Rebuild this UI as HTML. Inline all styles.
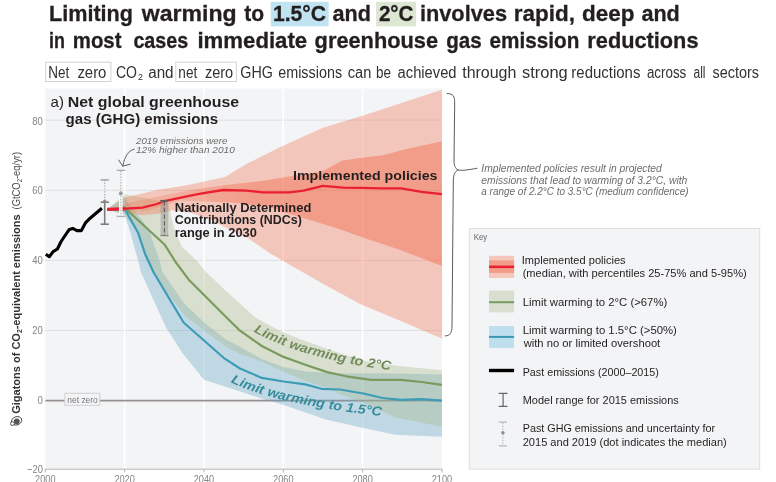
<!DOCTYPE html>
<html><head><meta charset="utf-8"><title>Limiting warming</title>
<style>
html,body{margin:0;padding:0;background:#fff;}
body{width:776px;height:482px;overflow:hidden;}
svg{display:block;will-change:transform;}
text{font-family:"Liberation Sans",sans-serif;}
.b{font-weight:bold;}
.i{font-style:italic;}
.k{font-size:11px;fill:#231f20;}
.ax{font-size:11.3px;fill:#858585;}
.hw{font-style:italic;fill:#6c6c6c;}
</style></head><body>
<svg width="776" height="482" viewBox="0 0 776 482">
<rect width="776" height="482" fill="#fff"/>

<rect x="270.7" y="1.8" width="58" height="24.5" fill="#bfe3f0"/>
<rect x="376.1" y="1.8" width="40" height="24.5" fill="#dde5d3"/>
<text x="48.94" y="21.4" font-size="22.5" font-weight="bold" stroke="#231f20" stroke-width="0.3" fill="#231f20" textLength="84.08" lengthAdjust="spacingAndGlyphs">Limiting</text>
<text x="141.83" y="21.4" font-size="22.5" font-weight="bold" stroke="#231f20" stroke-width="0.3" fill="#231f20" textLength="94.84" lengthAdjust="spacingAndGlyphs">warming</text>
<text x="244.30" y="21.4" font-size="22.5" font-weight="bold" stroke="#231f20" stroke-width="0.3" fill="#231f20" textLength="19.90" lengthAdjust="spacingAndGlyphs">to</text>
<text x="272.96" y="21.4" font-size="22.5" font-weight="bold" stroke="#231f20" stroke-width="0.3" fill="#231f20" textLength="53.07" lengthAdjust="spacingAndGlyphs">1.5°C</text>
<text x="332.50" y="21.4" font-size="22.5" font-weight="bold" stroke="#231f20" stroke-width="0.3" fill="#231f20" textLength="38.41" lengthAdjust="spacingAndGlyphs">and</text>
<text x="378.90" y="21.4" font-size="22.5" font-weight="bold" stroke="#231f20" stroke-width="0.3" fill="#231f20" textLength="34.63" lengthAdjust="spacingAndGlyphs">2°C</text>
<text x="419.93" y="21.4" font-size="22.5" font-weight="bold" stroke="#231f20" stroke-width="0.3" fill="#231f20" textLength="87.06" lengthAdjust="spacingAndGlyphs">involves</text>
<text x="513.80" y="21.4" font-size="22.5" font-weight="bold" stroke="#231f20" stroke-width="0.3" fill="#231f20" textLength="61.15" lengthAdjust="spacingAndGlyphs">rapid,</text>
<text x="582.10" y="21.4" font-size="22.5" font-weight="bold" stroke="#231f20" stroke-width="0.3" fill="#231f20" textLength="52.44" lengthAdjust="spacingAndGlyphs">deep</text>
<text x="641.40" y="21.4" font-size="22.5" font-weight="bold" stroke="#231f20" stroke-width="0.3" fill="#231f20" textLength="38.41" lengthAdjust="spacingAndGlyphs">and</text>
<text x="49.11" y="48.2" font-size="22.5" font-weight="bold" stroke="#231f20" stroke-width="0.3" fill="#231f20" textLength="15.89" lengthAdjust="spacingAndGlyphs">in</text>
<text x="72.80" y="48.2" font-size="22.5" font-weight="bold" stroke="#231f20" stroke-width="0.3" fill="#231f20" textLength="48.65" lengthAdjust="spacingAndGlyphs">most</text>
<text x="133.40" y="48.2" font-size="22.5" font-weight="bold" stroke="#231f20" stroke-width="0.3" fill="#231f20" textLength="54.85" lengthAdjust="spacingAndGlyphs">cases</text>
<text x="197.41" y="48.2" font-size="22.5" font-weight="bold" stroke="#231f20" stroke-width="0.3" fill="#231f20" textLength="109.79" lengthAdjust="spacingAndGlyphs">immediate</text>
<text x="314.60" y="48.2" font-size="22.5" font-weight="bold" stroke="#231f20" stroke-width="0.3" fill="#231f20" textLength="123.50" lengthAdjust="spacingAndGlyphs">greenhouse</text>
<text x="446.20" y="48.2" font-size="22.5" font-weight="bold" stroke="#231f20" stroke-width="0.3" fill="#231f20" textLength="35.47" lengthAdjust="spacingAndGlyphs">gas</text>
<text x="489.60" y="48.2" font-size="22.5" font-weight="bold" stroke="#231f20" stroke-width="0.3" fill="#231f20" textLength="89.78" lengthAdjust="spacingAndGlyphs">emission</text>
<text x="587.33" y="48.2" font-size="22.5" font-weight="bold" stroke="#231f20" stroke-width="0.3" fill="#231f20" textLength="111.16" lengthAdjust="spacingAndGlyphs">reductions</text>
<rect x="45.7" y="62.2" width="65.2" height="19.3" fill="#fff" stroke="#d2d2d2" stroke-width="1"/>
<rect x="175.8" y="62.2" width="60.6" height="19.3" fill="#fff" stroke="#d2d2d2" stroke-width="1"/>
<text x="48.16" y="77.8" font-size="16" fill="#343132" textLength="20.98" lengthAdjust="spacingAndGlyphs">Net</text>
<text x="77.40" y="77.8" font-size="16" fill="#343132" textLength="29.01" lengthAdjust="spacingAndGlyphs">zero</text>
<text x="116.00" y="77.8" font-size="16" fill="#343132" textLength="20.99" lengthAdjust="spacingAndGlyphs">CO</text>
<text x="148.20" y="77.8" font-size="16" fill="#343132" textLength="25.35" lengthAdjust="spacingAndGlyphs">and</text>
<text x="178.35" y="77.8" font-size="16" fill="#343132" textLength="18.88" lengthAdjust="spacingAndGlyphs">net</text>
<text x="204.90" y="77.8" font-size="16" fill="#343132" textLength="28.31" lengthAdjust="spacingAndGlyphs">zero</text>
<text x="240.30" y="77.8" font-size="16" fill="#343132" textLength="32.60" lengthAdjust="spacingAndGlyphs">GHG</text>
<text x="278.20" y="77.8" font-size="16" fill="#343132" textLength="63.90" lengthAdjust="spacingAndGlyphs">emissions</text>
<text x="347.80" y="77.8" font-size="16" fill="#343132" textLength="23.52" lengthAdjust="spacingAndGlyphs">can</text>
<text x="376.06" y="77.8" font-size="16" fill="#343132" textLength="14.95" lengthAdjust="spacingAndGlyphs">be</text>
<text x="397.60" y="77.8" font-size="16" fill="#343132" textLength="58.93" lengthAdjust="spacingAndGlyphs">achieved</text>
<text x="462.20" y="77.8" font-size="16" fill="#343132" textLength="54.20" lengthAdjust="spacingAndGlyphs">through</text>
<text x="522.00" y="77.8" font-size="16" fill="#343132" textLength="45.72" lengthAdjust="spacingAndGlyphs">strong</text>
<text x="571.36" y="77.8" font-size="16" fill="#343132" textLength="69.04" lengthAdjust="spacingAndGlyphs">reductions</text>
<text x="646.90" y="77.8" font-size="16" fill="#343132" textLength="39.40" lengthAdjust="spacingAndGlyphs">across</text>
<text x="693.50" y="77.8" font-size="16" fill="#343132" textLength="12.02" lengthAdjust="spacingAndGlyphs">all</text>
<text x="712.60" y="77.8" font-size="16" fill="#343132" textLength="46.40" lengthAdjust="spacingAndGlyphs">sectors</text>
<text x="137.90" y="80" font-size="9.5" fill="#343132" textLength="4.97" lengthAdjust="spacingAndGlyphs">2</text>
<rect x="45.3" y="88.5" width="396.6" height="380.7" fill="#f3f4f6"/>
<line x1="45.3" x2="441.9" y1="120.2" y2="120.2" stroke="#dfdfdf" stroke-width="1"/>
<line x1="45.3" x2="441.9" y1="190.3" y2="190.3" stroke="#dfdfdf" stroke-width="1"/>
<line x1="45.3" x2="441.9" y1="260.4" y2="260.4" stroke="#dfdfdf" stroke-width="1"/>
<line x1="45.3" x2="441.9" y1="330.5" y2="330.5" stroke="#dfdfdf" stroke-width="1"/>
<line x1="124.6" x2="124.6" y1="88.5" y2="469.2" stroke="#fff" stroke-width="1.6"/>
<line x1="203.9" x2="203.9" y1="88.5" y2="469.2" stroke="#fff" stroke-width="1.6"/>
<line x1="283.3" x2="283.3" y1="88.5" y2="469.2" stroke="#fff" stroke-width="1.6"/>
<line x1="362.6" x2="362.6" y1="88.5" y2="469.2" stroke="#fff" stroke-width="1.6"/>
<line x1="44.8" x2="442.4" y1="469.2" y2="469.2" stroke="#b4b4b4" stroke-width="1"/>
<line x1="45.3" x2="45.3" y1="469.2" y2="472.4" stroke="#b4b4b4" stroke-width="1"/>
<line x1="124.6" x2="124.6" y1="469.2" y2="472.4" stroke="#b4b4b4" stroke-width="1"/>
<line x1="203.9" x2="203.9" y1="469.2" y2="472.4" stroke="#b4b4b4" stroke-width="1"/>
<line x1="283.3" x2="283.3" y1="469.2" y2="472.4" stroke="#b4b4b4" stroke-width="1"/>
<line x1="362.6" x2="362.6" y1="469.2" y2="472.4" stroke="#b4b4b4" stroke-width="1"/>
<line x1="441.9" x2="441.9" y1="469.2" y2="472.4" stroke="#b4b4b4" stroke-width="1"/>
<line x1="45.3" x2="441.9" y1="400.6" y2="400.6" stroke="#979091" stroke-width="1.6"/>
<polygon points="107.2,209.5 124.6,197.0 131.0,207.0 143.6,221.7 149.9,232.8 159.6,260.6 162.4,272.0 184.8,304.2 205.3,323.6 225.8,339.6 240.0,346.7 261.8,359.0 283.5,367.0 305.3,371.4 340.0,373.5 363.3,373.3 395.0,373.5 441.9,374.6 441.9,436.7 395.0,434.7 363.3,428.0 325.8,419.5 283.9,405.0 260.0,398.0 226.4,387.0 203.9,379.8 196.2,370.0 182.5,353.3 166.5,328.2 152.8,298.5 140.9,272.0 138.1,260.6 130.4,232.8 124.6,214.5 107.2,209.5" fill="#5ea4c3" fill-opacity="0.35"/>
<polygon points="107.2,209.5 124.8,194.3 145.0,198.0 168.0,203.0 174.0,228.0 176.0,234.2 182.0,246.7 196.5,260.6 206.0,272.0 226.8,291.7 256.0,317.9 280.0,331.0 300.0,339.0 325.0,348.0 345.0,355.0 367.7,361.5 395.0,365.5 441.9,370.3 441.9,426.8 395.0,417.3 363.3,403.0 340.0,393.9 327.1,388.0 305.3,380.8 283.5,371.4 261.8,361.9 240.0,353.9 225.8,346.4 205.3,331.6 184.8,315.6 160.0,283.0 153.4,272.0 145.0,253.7 138.1,232.8 124.6,215.0 107.2,209.5" fill="#a8b788" fill-opacity="0.35"/>
<polygon points="124.8,197.4 157.0,189.9 188.0,185.0 225.0,177.0 247.8,163.3 280.0,147.3 322.2,127.9 363.3,115.4 441.9,89.8 441.9,338.6 399.7,320.6 361.1,304.5 322.4,283.6 310.0,276.3 289.6,264.7 269.7,253.1 248.1,238.2 231.5,230.7 211.6,220.0 190.0,212.4 172.6,210.3 160.0,213.5 142.4,215.2 124.8,212.2" fill="#f3714d" fill-opacity="0.35"/>
<defs><linearGradient id="gi" gradientUnits="userSpaceOnUse" x1="125" y1="0" x2="250" y2="0"><stop offset="0" stop-color="#f0512c" stop-opacity="0.16"/><stop offset="0.45" stop-color="#f0512c" stop-opacity="0.2"/><stop offset="1" stop-color="#f0512c" stop-opacity="0.35"/></linearGradient></defs>
<polygon points="124.8,203.5 157.0,196.7 188.0,190.4 225.0,185.0 260.0,181.2 292.2,176.1 321.9,171.6 342.5,160.6 360.0,158.0 382.7,155.3 405.5,149.2 441.9,141.2 441.9,265.9 399.7,249.8 361.1,236.9 340.0,229.3 310.0,220.0 283.1,212.0 269.7,207.0 231.5,202.5 180.0,200.5 164.0,205.5 147.2,211.0 124.8,210.3" fill="url(#gi)"/>
<polygon points="107.2,209.5 124.8,197.4 124.8,212.2" fill="#c9856a" fill-opacity="0.22"/>
<polyline points="107.2,209.5 124.6,209.5 125.6,210.6 138.1,232.8 145.0,253.7 153.4,272.0 183.6,322.5 223.6,357.8 240.0,368.5 261.8,377.9 283.5,381.5 305.3,384.4 321.3,388.8 340.0,389.5 363.3,393.5 382.7,398.0 401.0,399.9 421.5,399.2 441.9,400.7" fill="none" stroke="#3d9cb6" stroke-width="2.2" stroke-linejoin="round"/>
<polyline points="107.2,209.5 120.5,209.0 123.6,206.9 126.2,209.3 164.8,244.8 175.6,262.0 189.3,280.3 225.8,316.8 240.0,330.7 261.8,346.0 283.5,356.9 305.3,364.8 327.1,372.1 346.2,376.3 371.3,379.8 401.0,379.8 421.5,382.0 441.9,384.9" fill="none" stroke="#7a9b5f" stroke-width="2.2" stroke-linejoin="round"/>
<polyline points="107.2,209.5 118.0,208.9 125.3,208.7 142.4,207.6 157.0,204.0 164.4,201.2 188.0,196.2 200.6,193.7 223.3,190.0 246.0,190.6 262.5,192.3 289.3,192.3 303.7,190.7 322.8,185.8 343.0,187.7 360.0,187.9 382.7,188.4 401.0,188.4 421.5,191.8 441.9,194.2" fill="none" stroke="#ea1f30" stroke-width="2.3" stroke-linejoin="round"/>
<line x1="107.2" y1="209.3" x2="124.6" y2="208.9" stroke="#ea1f30" stroke-width="3.1"/>
<polyline points="45.8,254.2 49.4,256.7 53.1,251.6 57.4,249.0 61.1,241.5 65.1,235.5 69.0,229.8 72.7,228.4 77.0,230.6 81.4,230.6 85.7,222.6 90.1,218.2 101.9,208.3" fill="none" stroke="#000" stroke-width="3.1" stroke-linejoin="round"/>
<rect x="64.8" y="393.3" width="35" height="12" fill="#f3f4f6" stroke="#cfcfcf" stroke-width="1"/>
<text x="67.3" y="402.6" font-size="9.5" fill="#777" textLength="30.5" lengthAdjust="spacingAndGlyphs">net zero</text>
<g stroke="#a8a8a8" stroke-width="1.2" fill="none">
<line x1="100.6" x2="108.9" y1="179.9" y2="179.9" stroke-width="1.6"/>
<line x1="104.7" x2="104.7" y1="180" y2="201" stroke-dasharray="1.2 1.6"/>
</g>
<g stroke="#7c7c7c" stroke-width="1.6" fill="none">
<line x1="104.7" x2="104.7" y1="201.5" y2="224.2"/>
<line x1="100.6" x2="108.9" y1="202.2" y2="202.2"/>
<line x1="100.6" x2="108.9" y1="224.2" y2="224.2"/>
</g>
<circle cx="104.7" cy="201.3" r="1.7" fill="#8c8c8c"/>
<rect x="119" y="196.5" width="3.6" height="19.8" fill="#fff" fill-opacity="0.9"/>
<g stroke="#b0b0b0" stroke-width="1.2" fill="none">
<line x1="116.7" x2="125" y1="170.3" y2="170.3" stroke-width="1.4"/>
<line x1="116.7" x2="125" y1="216.4" y2="216.4" stroke-width="1.4"/>
<line x1="120.8" x2="120.8" y1="171" y2="216" stroke-dasharray="1.2 1.6"/>
</g>
<circle cx="120.8" cy="193.5" r="1.9" fill="#9a9a9a"/>
<rect x="160.6" y="200.7" width="7.6" height="35" fill="#8a8a8a" fill-opacity="0.4"/>
<g stroke="#5a5a5a" stroke-width="1.3" fill="none">
<line x1="160.3" x2="168.5" y1="200.7" y2="200.7" stroke-width="1.6"/>
<line x1="160.3" x2="168.5" y1="235.6" y2="235.6" stroke="#8a8a8a"/>
<line x1="164.4" x2="164.4" y1="201" y2="235.6" stroke-dasharray="4.5 2.2" stroke-width="1"/>
</g>
<text x="50.6" y="107.4" font-size="15" fill="#231f20">a)</text>
<text x="67.8" y="107.4" class="b" font-size="15" fill="#231f20" textLength="171.4" lengthAdjust="spacingAndGlyphs">Net global greenhouse</text>
<text x="65.6" y="123.8" class="b" font-size="15" fill="#231f20" textLength="152.5" lengthAdjust="spacingAndGlyphs">gas (GHG) emissions</text>
<text x="136" y="143.9" class="hw" font-size="9.4" textLength="91.3" lengthAdjust="spacingAndGlyphs">2019 emissions were</text>
<text x="136" y="152.6" class="hw" font-size="9.4" textLength="98.8" lengthAdjust="spacingAndGlyphs">12% higher than 2010</text>
<path d="M134.2 149.2 C128.5 150.5 124.6 156 122.9 166 M118.6 160 L122.8 166.2 L130.3 164.2" fill="none" stroke="#5e5e5e" stroke-width="1" stroke-linecap="round" stroke-linejoin="round"/>
<text x="293" y="180.4" class="b" font-size="13" fill="#231f20" textLength="144.5" lengthAdjust="spacingAndGlyphs">Implemented policies</text>
<text x="174.8" y="211.7" class="b" font-size="12.7" fill="#231f20" textLength="136.5" lengthAdjust="spacingAndGlyphs">Nationally Determined</text>
<text x="174.8" y="224.2" class="b" font-size="12.7" fill="#231f20" textLength="127" lengthAdjust="spacingAndGlyphs">Contributions (NDCs)</text>
<text x="174.8" y="236.8" class="b" font-size="12.7" fill="#231f20" textLength="82" lengthAdjust="spacingAndGlyphs">range in 2030</text>
<defs><path id="p2" d="M253.7 331.7 Q300 358 390 370.2"/><path id="p15" d="M230.8 382.2 Q275 404 381 416"/></defs>
<text class="b i" font-size="13" fill="#718c5a"><textPath href="#p2" textLength="143" lengthAdjust="spacingAndGlyphs">Limit warming to 2°C</textPath></text>
<text class="b i" font-size="13" fill="#368c9c"><textPath href="#p15" textLength="155" lengthAdjust="spacingAndGlyphs">Limit warming to 1.5°C</textPath></text>
<text x="42.9" y="124.5" class="ax" text-anchor="end" textLength="10.6" lengthAdjust="spacingAndGlyphs">80</text>
<text x="42.9" y="194.35" class="ax" text-anchor="end" textLength="10.6" lengthAdjust="spacingAndGlyphs">60</text>
<text x="42.9" y="264.2" class="ax" text-anchor="end" textLength="10.6" lengthAdjust="spacingAndGlyphs">40</text>
<text x="42.9" y="334.05" class="ax" text-anchor="end" textLength="10.6" lengthAdjust="spacingAndGlyphs">20</text>
<text x="42.9" y="403.9" class="ax" text-anchor="end" textLength="5.3" lengthAdjust="spacingAndGlyphs">0</text>
<text x="42.9" y="472.7" class="ax" text-anchor="end" textLength="15.9" lengthAdjust="spacingAndGlyphs">−20</text>
<text x="35.1" y="483" class="ax" textLength="20.4" lengthAdjust="spacingAndGlyphs">2000</text>
<text x="114.4" y="483" class="ax" textLength="20.4" lengthAdjust="spacingAndGlyphs">2020</text>
<text x="193.7" y="483" class="ax" textLength="20.4" lengthAdjust="spacingAndGlyphs">2040</text>
<text x="273.1" y="483" class="ax" textLength="20.4" lengthAdjust="spacingAndGlyphs">2060</text>
<text x="352.4" y="483" class="ax" textLength="20.4" lengthAdjust="spacingAndGlyphs">2080</text>
<text x="431.7" y="483" class="ax" textLength="20.4" lengthAdjust="spacingAndGlyphs">2100</text>
<g transform="translate(19.9,413.8) rotate(-90)"><text x="0" y="0" font-size="11.3" fill="#353132" textLength="199.5" lengthAdjust="spacingAndGlyphs"><tspan class="b">Gigatons of CO</tspan><tspan class="b" font-size="7" dy="2">2</tspan><tspan class="b" dy="-2">-equivalent emissions</tspan></text><text x="204.3" y="0" font-size="11.3" fill="#4a4a4a" textLength="57.6" lengthAdjust="spacingAndGlyphs">(GtCO<tspan font-size="7" dy="2">2</tspan><tspan dy="-2">-eq/yr)</tspan></text></g>
<ellipse cx="16.6" cy="420.8" rx="5.2" ry="4.1" fill="#fff" stroke="#444" stroke-width="0.9" transform="rotate(-20 16.6 420.8)"/><circle cx="16.8" cy="421.3" r="2.9" fill="#555"/><circle cx="12.4" cy="423.6" r="1.9" fill="#fff" stroke="#444" stroke-width="0.9"/>
<path d="M447.2 93.5 C453 93.5 454.7 96 454.7 103 L454 160 C454 166 455 168 458 170 C462 171 470 169.5 477 168.3 M458 170 C454 172 453.3 176 453.3 182 L452 326 C452 333 450 335.9 445.1 335.9" fill="none" stroke="#5c5c5c" stroke-width="1" stroke-linecap="round"/>
<text x="481.3" y="172.3" class="hw" font-size="10" textLength="180.5" lengthAdjust="spacingAndGlyphs">Implemented policies result in projected</text>
<text x="481.3" y="183.6" class="hw" font-size="10" textLength="206" lengthAdjust="spacingAndGlyphs">emissions that lead to warming of 3.2°C, with</text>
<text x="481.3" y="195" class="hw" font-size="10" textLength="207.3" lengthAdjust="spacingAndGlyphs">a range of 2.2°C to 3.5°C (medium confidence)</text>
<rect x="469.3" y="228.5" width="290.4" height="240.7" fill="#f3f4f6" stroke="#dedede" stroke-width="1"/>
<text x="473.7" y="239.8" font-size="9.5" fill="#666" textLength="13.5" lengthAdjust="spacingAndGlyphs">Key</text>
<rect x="489" y="255.8" width="25.1" height="22.2" fill="#f6c8bc"/><rect x="489" y="260.4" width="25.1" height="12.5" fill="#f29d89"/><rect x="489" y="265.6" width="25.1" height="2.5" fill="#ea1f30"/>
<rect x="489" y="290.5" width="25.1" height="21.9" fill="#d9dfd0"/><rect x="489" y="301.2" width="25.1" height="2" fill="#7a9b5f"/>
<rect x="489" y="326" width="25.1" height="22.1" fill="#bfdfee"/><rect x="489" y="335.9" width="25.1" height="2" fill="#3a9ab6"/>
<rect x="489" y="368.8" width="25.1" height="3.4" fill="#000"/>
<path d="M498.7 393.3 H507.5 M503.1 393.3 V406.3 M498.7 406.3 H507.5" stroke="#666" stroke-width="1.2" fill="none"/>
<path d="M498.8 422.1 H507 M498.8 445.8 H507" stroke="#b5b5b5" stroke-width="1.3" fill="none"/><line x1="502.9" x2="502.9" y1="423" y2="445.5" stroke="#b0b0b0" stroke-width="1.1" stroke-dasharray="1.2 1.6"/><circle cx="502.9" cy="432.8" r="1.8" fill="#8c8c8c"/>
<text x="521.75" y="263.6" font-size="11.6" fill="#231f20" textLength="103.86" lengthAdjust="spacingAndGlyphs">Implemented policies</text>
<text x="522.70" y="276.8" font-size="11.6" fill="#231f20" textLength="223.97" lengthAdjust="spacingAndGlyphs">(median, with percentiles 25-75% and 5-95%)</text>
<text x="522.70" y="305.8" font-size="11.6" fill="#231f20" textLength="144.56" lengthAdjust="spacingAndGlyphs">Limit warming to 2°C (&gt;67%)</text>
<text x="522.70" y="334.2" font-size="11.6" fill="#231f20" textLength="154.16" lengthAdjust="spacingAndGlyphs">Limit warming to 1.5°C (&gt;50%)</text>
<text x="523.67" y="346.8" font-size="11.6" fill="#231f20" textLength="136.58" lengthAdjust="spacingAndGlyphs">with no or limited overshoot</text>
<text x="522.70" y="375.7" font-size="11.6" fill="#231f20" textLength="136.17" lengthAdjust="spacingAndGlyphs">Past emissions (2000–2015)</text>
<text x="522.70" y="403.8" font-size="11.6" fill="#231f20" textLength="156.11" lengthAdjust="spacingAndGlyphs">Model range for 2015 emissions</text>
<text x="522.70" y="432.2" font-size="11.6" fill="#231f20" textLength="192.47" lengthAdjust="spacingAndGlyphs">Past GHG emissions and uncertainty for</text>
<text x="522.70" y="445.6" font-size="11.6" fill="#231f20" textLength="204.07" lengthAdjust="spacingAndGlyphs">2015 and 2019 (dot indicates the median)</text>
</svg></body></html>
